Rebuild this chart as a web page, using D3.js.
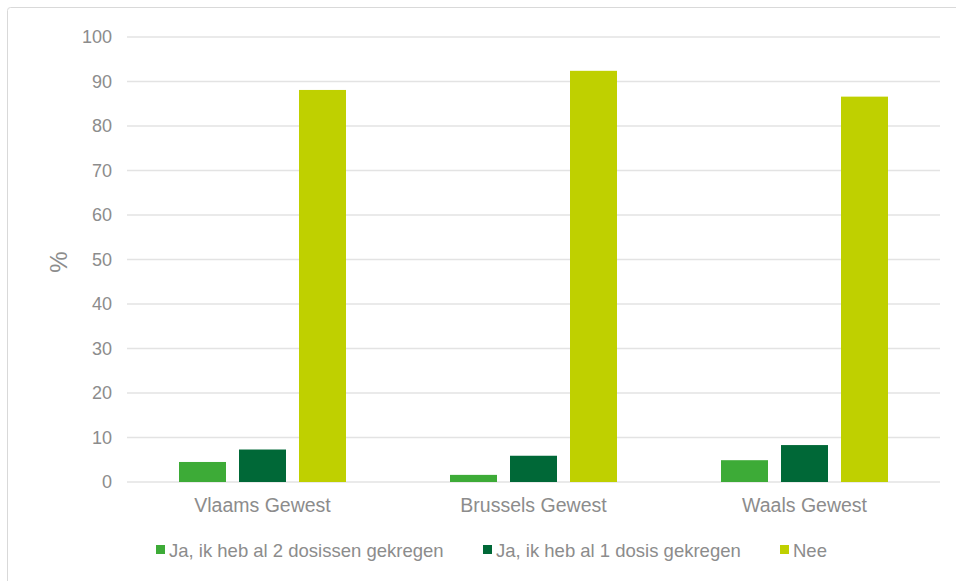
<!DOCTYPE html>
<html>
<head>
<meta charset="utf-8">
<script src="https://cdn.jsdelivr.net/npm/d3@7"></script>
<style>
  html, body { margin: 0; padding: 0; background: #fff; }
  svg { display: block; font-family: "Liberation Sans", Arial, sans-serif; }
</style>
</head>
<body>
<svg id="chart" width="956" height="581"></svg>
<script>
// Regions on the x axis
const regions = ["Vlaams Gewest", "Brussels Gewest", "Waals Gewest"];
// Answer series (legend order)
const seriesNames = [
  "Ja, ik heb al 2 dosissen gekregen",
  "Ja, ik heb al 1 dosis gekregen",
  "Nee"
];
const seriesColors = ["#3dab37", "#006837", "#bfd000"];
// Percentages per region, one array per series
const twoDoses = [4.5, 1.6, 4.9];
const oneDose = [7.3, 5.9, 8.3];
const noDose = [88.1, 92.4, 86.6];
const yTicks = [0, 10, 20, 30, 40, 50, 60, 70, 80, 90, 100];

const seriesValues = [twoDoses, oneDose, noDose];

const svg = d3.select("#chart");
const W = 956, H = 581;
const margin = { top: 37, right: 16, bottom: 99, left: 127 };
const plotW = W - margin.left - margin.right;
const plotH = H - margin.top - margin.bottom;
const textGrey = "#8c8c8c";

// Outer frame
svg.append("rect")
  .attr("x", 7.5).attr("y", 7.5)
  .attr("width", 980).attr("height", 620)
  .attr("rx", 3)
  .attr("fill", "#fff")
  .attr("stroke", "#d9d9d9")
  .attr("stroke-width", 1);

const g = svg.append("g").attr("transform", `translate(${margin.left},${margin.top})`);

const x0 = d3.scaleBand().domain(regions).range([0, plotW]).paddingInner(0).paddingOuter(0);
const x1 = d3.scaleBand().domain(seriesNames).range([0, 167]).paddingInner(13 / 60).paddingOuter(0);
const y = d3.scaleLinear().domain([0, 100]).range([plotH, 0]);

// Gridlines
g.append("g")
  .selectAll("line")
  .data(yTicks)
  .join("line")
  .attr("x1", 0).attr("x2", plotW)
  .attr("y1", d => y(d)).attr("y2", d => y(d))
  .attr("stroke", "#e3e3e3")
  .attr("stroke-width", 1.5);

// Y axis labels
const yAxis = d3.axisLeft(y).tickValues(yTicks).tickSize(0).tickPadding(15);
const yg = g.append("g").call(yAxis);
yg.select(".domain").remove();
yg.selectAll("text")
  .attr("fill", textGrey)
  .style("font-size", "18px")
  .style("font-family", "Liberation Sans, Arial, sans-serif");

// Y axis title
g.append("text")
  .attr("transform", `translate(${58 - margin.left},${262 - margin.top}) rotate(-90)`)
  .attr("text-anchor", "middle")
  .attr("dominant-baseline", "central")
  .attr("fill", textGrey)
  .style("font-size", "24px")
  .text("%");

// Bars
const groups = g.append("g")
  .selectAll("g")
  .data(regions)
  .join("g")
  .attr("transform", d => `translate(${x0(d) + (x0.bandwidth() - 167) / 2},0)`);

groups.selectAll("rect")
  .data((d, i) => seriesNames.map((s, k) => ({ series: s, value: seriesValues[k][i], color: seriesColors[k] })))
  .join("rect")
  .attr("x", d => x1(d.series))
  .attr("width", x1.bandwidth())
  .attr("y", d => y(d.value))
  .attr("height", d => plotH - y(d.value))
  .attr("fill", d => d.color);

// X axis category labels
const xAxis = d3.axisBottom(x0).tickSize(0).tickPadding(16);
const xg = g.append("g").attr("transform", `translate(0,${plotH})`).call(xAxis);
xg.select(".domain").remove();
xg.selectAll("text")
  .attr("fill", textGrey)
  .style("font-size", "19.5px")
  .style("font-family", "Liberation Sans, Arial, sans-serif");

// Legend
const legendX = [156, 483, 780];
const legend = svg.append("g")
  .selectAll("g")
  .data(seriesNames)
  .join("g")
  .attr("transform", (d, i) => `translate(${legendX[i]},550)`);
legend.append("rect")
  .attr("x", 0).attr("y", -5)
  .attr("width", 9).attr("height", 9)
  .attr("fill", (d, i) => seriesColors[i]);
legend.append("text")
  .attr("x", 13)
  .attr("y", 0)
  .attr("dominant-baseline", "central")
  .attr("fill", textGrey)
  .style("font-size", "18.5px")
  .text(d => d);
</script>
</body>
</html>
